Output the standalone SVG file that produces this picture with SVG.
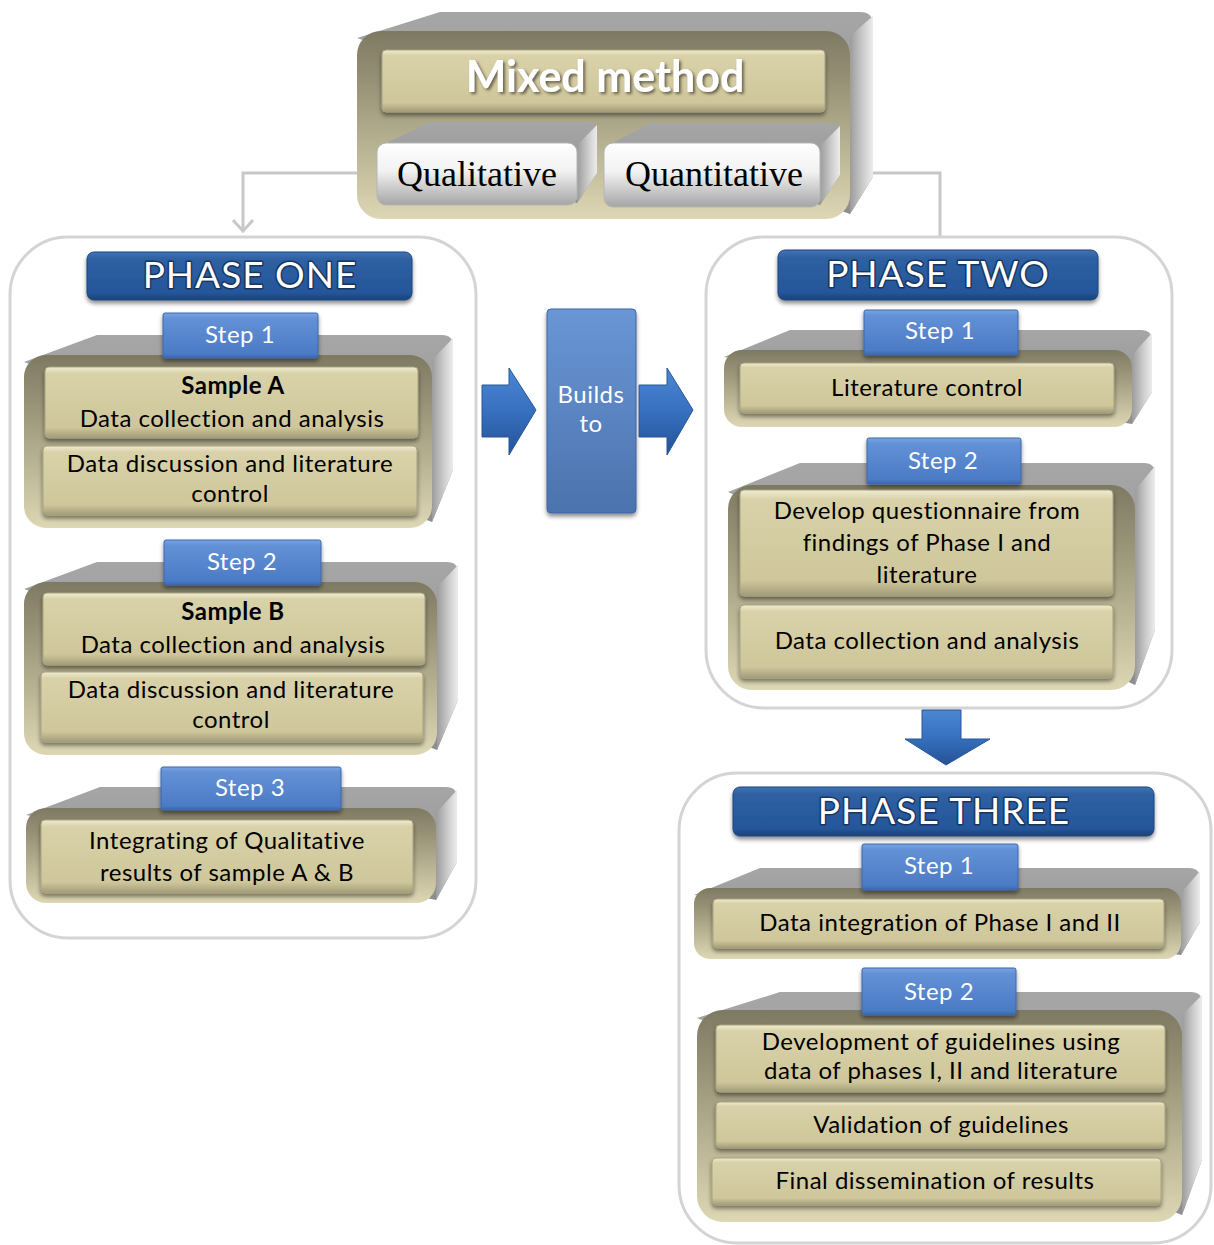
<svg xmlns="http://www.w3.org/2000/svg" width="1214" height="1245" viewBox="0 0 1214 1245">
  <defs>
    <linearGradient id="olive" x1="0" y1="0" x2="0" y2="1">
      <stop offset="0" stop-color="#7e7962"/>
      <stop offset="0.4" stop-color="#a39e80"/>
      <stop offset="1" stop-color="#ddd7b4"/>
    </linearGradient>
    <linearGradient id="topGray" x1="0" y1="0" x2="0" y2="1">
      <stop offset="0" stop-color="#a6a6a6"/>
      <stop offset="1" stop-color="#8e8e8e"/>
    </linearGradient>
    <linearGradient id="sideGray" x1="0" y1="0" x2="1" y2="0">
      <stop offset="0" stop-color="#9c9c9c"/>
      <stop offset="0.6" stop-color="#cfcfcf"/>
      <stop offset="1" stop-color="#ececec"/>
    </linearGradient>
    <linearGradient id="bar" x1="0" y1="0" x2="0" y2="1">
      <stop offset="0" stop-color="#f1ecd2"/>
      <stop offset="0.09" stop-color="#d9d1a8"/>
      <stop offset="0.85" stop-color="#cfc79b"/>
      <stop offset="1" stop-color="#a29b78"/>
    </linearGradient>
    <linearGradient id="silver" x1="0" y1="0" x2="0" y2="1">
      <stop offset="0" stop-color="#ffffff"/>
      <stop offset="0.45" stop-color="#f2f2f2"/>
      <stop offset="1" stop-color="#a5a5a5"/>
    </linearGradient>
    <linearGradient id="banner" x1="0" y1="0" x2="0" y2="1">
      <stop offset="0" stop-color="#4274b5"/>
      <stop offset="0.15" stop-color="#2e60a2"/>
      <stop offset="0.85" stop-color="#25569a"/>
      <stop offset="1" stop-color="#1a4278"/>
    </linearGradient>
    <linearGradient id="tab" x1="0" y1="0" x2="0" y2="1">
      <stop offset="0" stop-color="#79a4e4"/>
      <stop offset="0.12" stop-color="#6391d6"/>
      <stop offset="0.9" stop-color="#4b7bc5"/>
      <stop offset="1" stop-color="#3a67ad"/>
    </linearGradient>
    <linearGradient id="column" x1="0" y1="0" x2="0" y2="1">
      <stop offset="0" stop-color="#6a96d6"/>
      <stop offset="1" stop-color="#4b73ad"/>
    </linearGradient>
    <linearGradient id="arrowFill" x1="0" y1="0" x2="0" y2="1">
      <stop offset="0" stop-color="#4c87d4"/>
      <stop offset="0.5" stop-color="#3670bf"/>
      <stop offset="1" stop-color="#245296"/>
    </linearGradient>
    <filter id="shadow" x="-10%" y="-20%" width="120%" height="150%">
      <feDropShadow dx="0" dy="3" stdDeviation="2" flood-color="#000" flood-opacity="0.45"/>
    </filter>
    <filter id="textShadow" x="-10%" y="-20%" width="120%" height="150%">
      <feDropShadow dx="2" dy="2" stdDeviation="1.5" flood-color="#3a3628" flood-opacity="0.7"/>
    </filter>
    <marker id="chev" viewBox="0 0 14 22" refX="12" refY="11" markerWidth="14" markerHeight="22" markerUnits="userSpaceOnUse" orient="auto">
      <path d="M1,1 L12,11 L1,21" fill="none" stroke="#c8c8c8" stroke-width="3"/>
    </marker>
  </defs>
  <style>
    .frame { fill: #ffffff; stroke: #d4d4d4; stroke-width: 3; }
    .top { fill: url(#topGray); }
    .side { fill: url(#sideGray); }
    .front { fill: url(#olive); }
    .bar { fill: url(#bar); stroke: #a8a17f; stroke-width: 1; filter: url(#shadow); }
    .banner { fill: url(#banner); stroke: #1d477f; stroke-width: 1; filter: url(#shadow); }
    .tab { fill: url(#tab); stroke: #3d68ab; stroke-width: 1; filter: url(#shadow); }
    .t { font-family: Lato, "Liberation Sans", sans-serif; font-size: 24px; letter-spacing: 0.5px; fill: #000; text-anchor: middle; }
    .b { font-weight: bold; }
    .step { font-family: Lato, "Liberation Sans", sans-serif; font-size: 24px; letter-spacing: 0.5px; fill: #ffffff; text-anchor: middle; }
    .phase { font-family: Lato, "Liberation Sans", sans-serif; font-size: 37px; fill: #ffffff; text-anchor: middle; letter-spacing: 1px; stroke: #17355f; stroke-width: 3; paint-order: stroke; stroke-linejoin: round; }
    .serif { font-family: "Liberation Serif", "Times New Roman", serif; font-size: 36px; fill: #000; text-anchor: middle; }
    .conn { fill: none; stroke: #c8c8c8; stroke-width: 3; }
    .blue { fill: url(#arrowFill); stroke: #2a5696; stroke-width: 1; }
  </style>

  <rect width="1214" height="1245" fill="#ffffff"/>

  <!-- Connectors from the mixed method block -->
  <g id="connectors">
    <path class="conn" d="M360,173 L243,173 L243,231" marker-end="url(#chev)"/>
    <path class="conn" d="M860,173 L940,173 L940,238"/>
  </g>

  <!-- Phase frames -->
  <g id="phase-one-frame">
    <rect class="frame" x="10" y="237" width="466" height="701" rx="58"/>
  </g>
  <g id="phase-two-frame">
    <rect class="frame" x="706" y="237" width="466" height="471" rx="58"/>
  </g>
  <g id="phase-three-frame">
    <rect class="frame" x="679" y="773" width="532" height="470" rx="58"/>
  </g>

  <!-- Mixed method block -->
  <g id="mixed-method">
    <path class="top" d="M357,38 L440,12 L860,12 Q873,12 873,25 L873,177 L850,214 Z"/>
    <path class="side" d="M850,36 L873,16 L873,177 L850,214 Z"/>
    <rect class="front" x="357" y="31" width="493" height="188" rx="24"/>
    <rect class="bar" x="382" y="50" width="443" height="62" rx="4"/>
    <text x="605" y="92" font-family="Lato, 'Liberation Sans', sans-serif" font-size="43" font-weight="bold" fill="#ffffff" text-anchor="middle" filter="url(#textShadow)">Mixed method</text>
  </g>

  <g id="qualitative">
    <path class="top" d="M380,146 L430,122 L588,122 Q597,122 597,131 L597,173 L577,203 Z"/>
    <path class="side" d="M577,145 L597,125 L597,173 L577,203 Z"/>
    <rect x="377" y="143" width="200" height="62" rx="9" fill="url(#silver)" stroke="#b5b5b5" stroke-width="1"/>
    <text class="serif" x="477" y="186">Qualitative</text>
  </g>

  <g id="quantitative">
    <path class="top" d="M607,146 L650,123 L831,123 Q840,123 840,132 L840,175 L820,205 Z"/>
    <path class="side" d="M820,146 L840,126 L840,175 L820,205 Z"/>
    <rect x="604" y="143" width="216" height="64" rx="9" fill="url(#silver)" stroke="#b5b5b5" stroke-width="1"/>
    <text class="serif" x="714" y="186">Quantitative</text>
  </g>

  <!-- Phase one -->
  <g id="phase-one-title">
    <rect class="banner" x="87" y="252" width="325" height="48" rx="7"/>
    <text class="phase" x="250" y="288">PHASE ONE</text>
  </g>

  <g id="p1-step1">
    <path class="top" d="M24,362 L97,335 L442,335 Q453,335 453,346 L453,470 L432,522 Z"/>
    <path class="side" d="M432,360 L453,338 L453,470 L432,522 Z"/>
    <rect class="front" x="24" y="355" width="408" height="173" rx="22"/>
    <rect class="bar" x="45" y="367" width="373" height="71" rx="4"/>
    <rect class="bar" x="43" y="446" width="374" height="69" rx="4"/>
    <rect class="tab" x="163" y="313" width="155" height="45" rx="2"/>
    <text class="step" x="240" y="343">Step 1</text>
    <text class="t b" x="233" y="394">Sample A</text>
    <text class="t" x="232" y="427">Data collection and analysis</text>
    <text class="t" x="230" y="472">Data discussion and literature</text>
    <text class="t" x="230" y="502">control</text>
  </g>

  <g id="p1-step2">
    <path class="top" d="M24,589 L97,562 L447,562 Q458,562 458,573 L458,700 L437,750 Z"/>
    <path class="side" d="M437,587 L458,565 L458,700 L437,750 Z"/>
    <rect class="front" x="24" y="582" width="413" height="173" rx="22"/>
    <rect class="bar" x="43" y="593" width="382" height="72" rx="4"/>
    <rect class="bar" x="41" y="672" width="382" height="70" rx="4"/>
    <rect class="tab" x="164" y="540" width="157" height="45" rx="2"/>
    <text class="step" x="242" y="570">Step 2</text>
    <text class="t b" x="233" y="620">Sample B</text>
    <text class="t" x="233" y="653">Data collection and analysis</text>
    <text class="t" x="231" y="698">Data discussion and literature</text>
    <text class="t" x="231" y="728">control</text>
  </g>

  <g id="p1-step3">
    <path class="top" d="M26,815 L100,787 L446,787 Q457,787 457,798 L457,862 L436,900 Z"/>
    <path class="side" d="M436,813 L457,790 L457,862 L436,900 Z"/>
    <rect class="front" x="26" y="808" width="410" height="95" rx="20"/>
    <rect class="bar" x="41" y="820" width="372" height="73" rx="4"/>
    <rect class="tab" x="161" y="767" width="180" height="43" rx="2"/>
    <text class="step" x="250" y="796">Step 3</text>
    <text class="t" x="227" y="849">Integrating of Qualitative</text>
    <text class="t" x="227" y="881">results of sample A &amp; B</text>
  </g>

  <!-- Builds to -->
  <g id="builds-to">
    <path class="blue" d="M482,385 L509,385 L509,368 L536,410 L509,455 L509,437 L482,437 Z"/>
    <rect x="547" y="309" width="89" height="204" rx="4" fill="url(#column)" stroke="#3e66a3" stroke-width="1" filter="url(#shadow)"/>
    <text class="step" x="591" y="403">Builds</text>
    <text class="step" x="591" y="432">to</text>
    <path class="blue" d="M639,385 L667,385 L667,368 L693,410 L667,455 L667,437 L639,437 Z"/>
  </g>

  <!-- Phase two -->
  <g id="phase-two-title">
    <rect class="banner" x="778" y="250" width="320" height="50" rx="7"/>
    <text class="phase" x="938" y="287">PHASE TWO</text>
  </g>

  <g id="p2-step1">
    <path class="top" d="M724,357 L790,330 L1141,330 Q1152,330 1152,341 L1152,392 L1132,424 Z"/>
    <path class="side" d="M1132,355 L1152,333 L1152,392 L1132,424 Z"/>
    <rect class="front" x="724" y="350" width="408" height="77" rx="18"/>
    <rect class="bar" x="740" y="363" width="374" height="50" rx="4"/>
    <rect class="tab" x="864" y="310" width="154" height="45" rx="2"/>
    <text class="step" x="940" y="339">Step 1</text>
    <text class="t" x="927" y="396">Literature control</text>
  </g>

  <g id="p2-step2">
    <path class="top" d="M728,492 L800,463 L1144,463 Q1155,463 1155,474 L1155,630 L1135,685 Z"/>
    <path class="side" d="M1135,490 L1155,466 L1155,630 L1135,685 Z"/>
    <rect class="front" x="728" y="485" width="407" height="205" rx="24"/>
    <rect class="bar" x="740" y="490" width="373" height="106" rx="4"/>
    <rect class="bar" x="740" y="605" width="373" height="73" rx="4"/>
    <rect class="tab" x="867" y="438" width="154" height="46" rx="2"/>
    <text class="step" x="943" y="469">Step 2</text>
    <text class="t" x="927" y="519">Develop questionnaire from</text>
    <text class="t" x="927" y="551">findings of Phase I and</text>
    <text class="t" x="927" y="583">literature</text>
    <text class="t" x="927" y="649">Data collection and analysis</text>
  </g>

  <!-- Phase two to phase three -->
  <g id="down-arrow">
    <path class="blue" d="M922,710 L961,710 L961,739 L990,739 L946,765 L905,739 L922,739 Z"/>
  </g>

  <!-- Phase three -->
  <g id="phase-three-title">
    <rect class="banner" x="733" y="787" width="421" height="49" rx="7"/>
    <text class="phase" x="944" y="824">PHASE THREE</text>
  </g>

  <g id="p3-step1">
    <path class="top" d="M694,895 L760,868 L1189,868 Q1200,868 1200,879 L1200,922 L1181,955 Z"/>
    <path class="side" d="M1181,893 L1200,871 L1200,922 L1181,955 Z"/>
    <rect class="front" x="694" y="888" width="487" height="71" rx="16"/>
    <rect class="bar" x="713" y="899" width="451" height="49" rx="4"/>
    <rect class="tab" x="862" y="844" width="156" height="46" rx="2"/>
    <text class="step" x="939" y="874">Step 1</text>
    <text class="t" x="940" y="931">Data integration of Phase I and II</text>
  </g>

  <g id="p3-step2">
    <path class="top" d="M697,1018 L780,992 L1191,992 Q1202,992 1202,1003 L1202,1160 L1182,1215 Z"/>
    <path class="side" d="M1182,1015 L1202,995 L1202,1160 L1182,1215 Z"/>
    <rect class="front" x="697" y="1010" width="485" height="212" rx="26"/>
    <rect class="bar" x="716" y="1025" width="449" height="67" rx="4"/>
    <rect class="bar" x="716" y="1102" width="449" height="46" rx="4"/>
    <rect class="bar" x="712" y="1158" width="449" height="47" rx="4"/>
    <rect class="tab" x="862" y="968" width="154" height="47" rx="2"/>
    <text class="step" x="939" y="1000">Step 2</text>
    <text class="t" x="941" y="1050">Development of guidelines using</text>
    <text class="t" x="941" y="1079">data of phases I, II and literature</text>
    <text class="t" x="941" y="1133">Validation of guidelines</text>
    <text class="t" x="935" y="1189">Final dissemination of results</text>
  </g>
</svg>
